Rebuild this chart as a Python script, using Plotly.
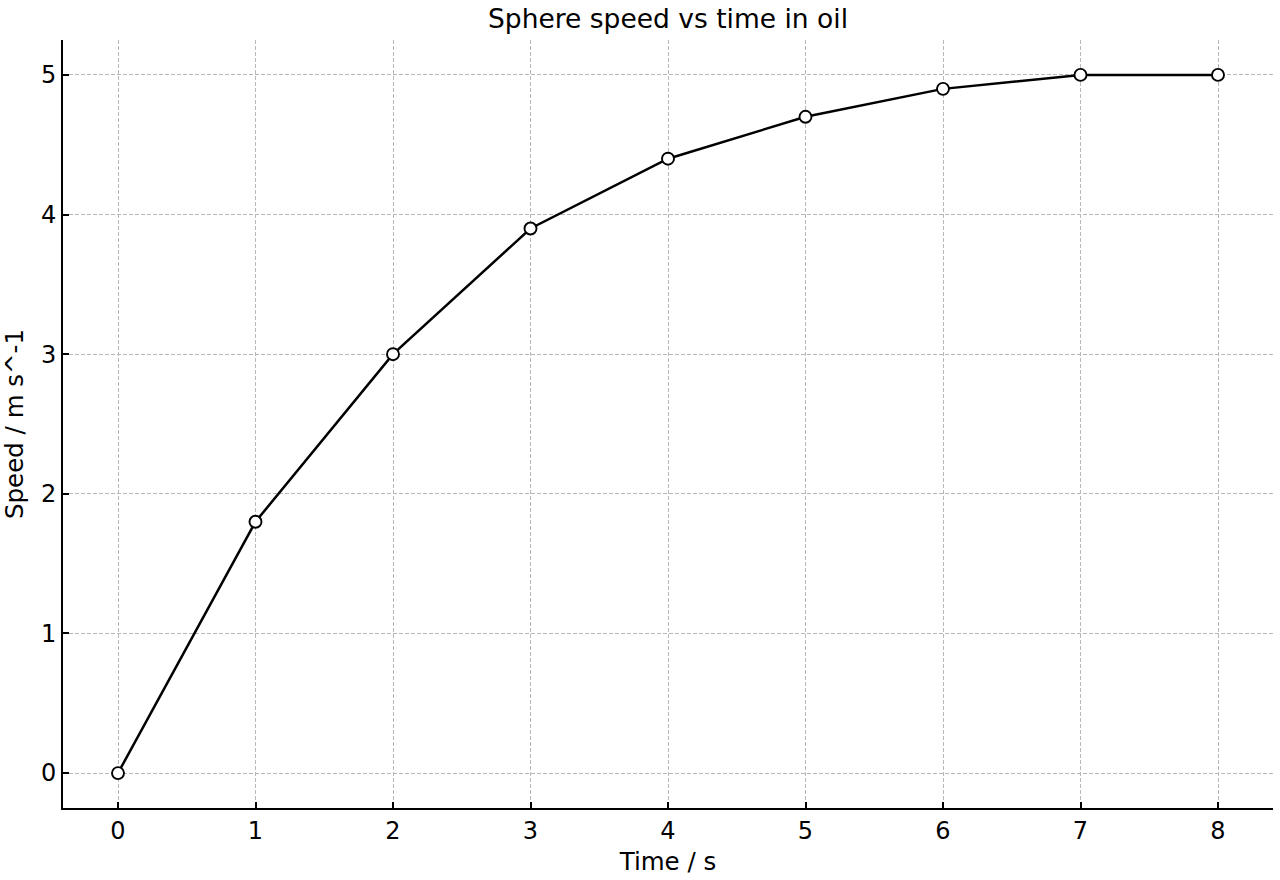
import plotly.graph_objects as go

time_s = [0, 1, 2, 3, 4, 5, 6, 7, 8]
speed = [0, 1.8, 3.0, 3.9, 4.4, 4.7, 4.9, 5.0, 5.0]
x_ticks = [0, 1, 2, 3, 4, 5, 6, 7, 8]
y_ticks = [0, 1, 2, 3, 4, 5]

font = "DejaVu Sans"

fig = go.Figure(go.Scatter(
    x=time_s, y=speed, mode="lines+markers",
    line=dict(color="black", width=2.5),
    marker=dict(size=12, color="white", line=dict(color="black", width=1.9)),
    showlegend=False,
))

axis_common = dict(
    showline=True, linecolor="black", linewidth=2,
    ticks="inside", ticklen=6, tickwidth=2, tickcolor="black",
    showgrid=True, gridcolor="#b8b8b8", gridwidth=1, griddash="4px,2px",
    zeroline=False, mirror=False,
    tickfont=dict(family=font, size=24, color="black"),
)

fig.update_layout(
    width=1280, height=880,
    margin=dict(l=63, r=7, t=40, b=72),
    paper_bgcolor="white", plot_bgcolor="white",
    font=dict(family=font, color="black"),
    title=dict(text="Sphere speed vs time in oil", x=0.5, xref="paper",
               y=1 - 19 / 880, yanchor="middle",
               font=dict(family=font, size=26.5, color="black")),
    xaxis=dict(range=[-0.4, 8.4], tickvals=x_ticks,
               title=dict(text="Time / s", font=dict(family=font, size=24.5), standoff=9),
               **axis_common),
    yaxis=dict(range=[-0.25, 5.25], tickvals=y_ticks,
               title=dict(text="Speed / m s^-1", font=dict(family=font, size=24.5), standoff=10),
               **axis_common),
)

fig.write_html("out.html")
